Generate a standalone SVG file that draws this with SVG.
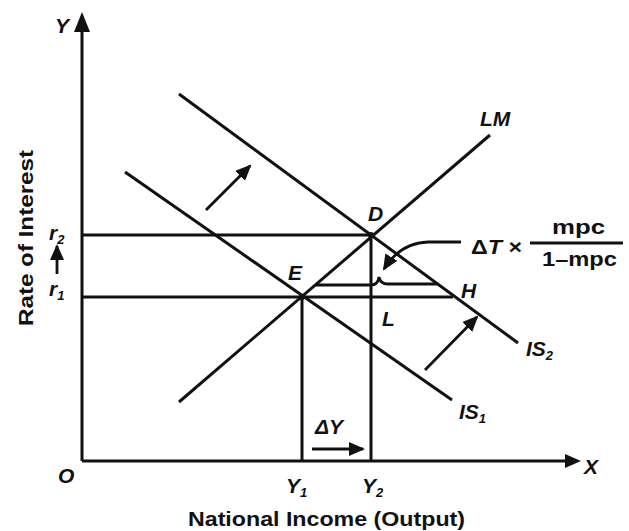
<svg xmlns="http://www.w3.org/2000/svg" width="629" height="531" viewBox="0 0 629 531">
<defs>
<marker id="ahs" markerWidth="16" markerHeight="14" refX="14" refY="7" orient="auto" markerUnits="userSpaceOnUse" viewBox="0 0 16 14">
<path d="M0,0 L16,7 L0,14 Z" fill="#111"/>
</marker>
</defs>
<style>
.ln{stroke:#111;stroke-width:3;fill:none}
.thin{stroke:#111;stroke-width:2.8;fill:none}
.lab{font-family:"Liberation Sans",Arial,sans-serif;font-weight:bold;font-style:italic;font-size:21px;fill:#111}
.sub{font-size:13px}
.txt{font-family:"Liberation Sans",Arial,sans-serif;font-weight:bold;font-size:21px;fill:#111}
</style>
<rect width="629" height="531" fill="#fff"/>
<g id="connectors">
<path class="ln" d="M82,461 L82,30"/>
<path d="M82,12 L74,32 L90,32 Z" fill="#111"/>
<path class="ln" d="M82,461 L566,461"/>
<path d="M581,461 L565,454 L565,468 Z" fill="#111"/>
<path class="ln" d="M82,235 L371,235"/>
<path class="ln" d="M82,297 L453,297"/>
<path class="ln" d="M302,297 L302,461"/>
<path class="ln" d="M371,235 L371,461"/>
<path class="ln" d="M179,402 L490,135"/>
<path class="ln" d="M125,172 L452,400"/>
<path class="ln" d="M179,94 L518,343"/>
<path class="thin" d="M206,210 L250,166" marker-end="url(#ahs)"/>
<path class="thin" d="M425,370 L477,317" marker-end="url(#ahs)"/>
<path class="thin" d="M312,449 L363,449" marker-end="url(#ahs)"/>
<path class="thin" d="M57,274 L57,246" marker-end="url(#ahs)"/>
<path class="thin" d="M315,285 L371,285 Q378,285 379,277 Q380,284 388,284 L437,284"/>
<path class="thin" d="M461,242 L428,242 Q400,243 384,269" marker-end="url(#ahs)"/>
<circle cx="302" cy="297" r="3" fill="#111"/>
<circle cx="371" cy="235" r="3" fill="#111"/>
</g>
<g id="labels">
<text class="lab" x="55" y="33" font-style="normal">Y</text>
<text class="lab" x="584" y="474">X</text>
<text class="lab" x="58" y="483">O</text>
<text class="lab" x="480" y="126">LM</text>
<text class="lab" x="368" y="221">D</text>
<text class="lab" x="288" y="280">E</text>
<text class="lab" x="461" y="298">H</text>
<text class="lab" x="382" y="326">L</text>
<text class="lab" x="526" y="356">IS<tspan class="sub" dy="4">2</tspan></text>
<text class="lab" x="459" y="419">IS<tspan class="sub" dy="4">1</tspan></text>
<text class="lab" x="286" y="493">Y<tspan class="sub" dy="4">1</tspan></text>
<text class="lab" x="362" y="493">Y<tspan class="sub" dy="4">2</tspan></text>
<text class="lab" x="315" y="434" font-style="normal">ΔY</text>
<text class="lab" x="49" y="240" font-size="19">r<tspan class="sub" dy="4">2</tspan></text>
<text class="lab" x="49" y="296" font-size="19">r<tspan class="sub" dy="4">1</tspan></text>
<text class="txt" x="471" y="254" textLength="51" lengthAdjust="spacingAndGlyphs">Δ<tspan font-style="italic">T</tspan> ×</text>
<text class="txt" x="552" y="234" textLength="53" lengthAdjust="spacingAndGlyphs">mpc</text>
<path class="thin" d="M530,243 L623,243"/>
<text class="txt" x="542" y="266" textLength="75" lengthAdjust="spacingAndGlyphs">1–mpc</text>
<text class="txt" x="188" y="526" textLength="277" lengthAdjust="spacingAndGlyphs">National Income (Output)</text>
<text class="txt" transform="translate(33,238) rotate(-90)" text-anchor="middle" textLength="176" lengthAdjust="spacingAndGlyphs">Rate of Interest</text>
</g>
</svg>
